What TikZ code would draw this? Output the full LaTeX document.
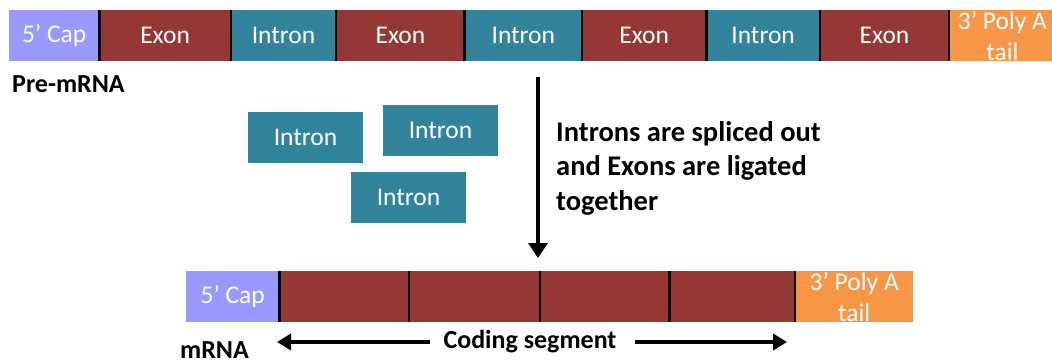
\documentclass[tikz,border=0pt]{standalone}
\usepackage{fontspec}
\setmainfont{Carlito}
\usetikzlibrary{positioning,arrows.meta}
\definecolor{capblue}{HTML}{9999FF}
\definecolor{exonred}{HTML}{953735}
\definecolor{introngreen}{HTML}{31849B}
\definecolor{tailorange}{HTML}{F79646}
\tikzset{
  seg/.style={inner sep=0pt,minimum height=51pt,text=white,align=center,font=\fontsize{25.5}{31}\selectfont},
  capseg/.style={seg,fill=capblue},
  exonseg/.style={seg,fill=exonred},
  intronseg/.style={seg,fill=introngreen},
  tailseg/.style={seg,fill=tailorange},
  divider/.style={line width=2.5pt,black},
  lbl/.style={inner sep=0pt,font=\bfseries\fontsize{26}{31}\selectfont},
  arr/.style={line width=3.5pt,-{Triangle[width=16pt,length=14pt]}}
}
\begin{document}
\begin{tikzpicture}[x=1pt,y=-1pt]
		\useasboundingbox (0,0) rectangle (1052,364);
		% pre-mRNA strand
		\node[capseg,minimum width=90pt,anchor=north west] (cap) at (9,10) {5’ Cap};
		\node[exonseg,minimum width=131pt,right=0pt of cap] (ex1) {Exon};
		\node[intronseg,minimum width=105pt,right=0pt of ex1] (in1) {Intron};
		\node[exonseg,minimum width=128pt,right=0pt of in1] (ex2) {Exon};
		\node[intronseg,minimum width=117pt,right=0pt of ex2] (in2) {Intron};
		\node[exonseg,minimum width=124pt,right=0pt of in2] (ex3) {Exon};
		\node[intronseg,minimum width=113pt,right=0pt of ex3] (in3) {Intron};
		\node[exonseg,minimum width=129pt,right=0pt of in3] (ex4) {Exon};
		\node[tailseg,minimum width=106pt,right=0pt of ex4] (tail) {3’ Poly A\\tail};
		\foreach \n in {cap,ex1,in1,ex2,in2,ex3,in3,ex4}
			\draw[divider] (\n.north east)--(\n.south east);
		\node[lbl,anchor=west] (pre) at (12,84) {Pre-mRNA};
		% removed introns
		\node[intronseg,minimum width=115pt] (cut1) at (305.5,137.5) {Intron};
		\node[intronseg,minimum width=115pt] (cut2) at (440.5,130.5) {Intron};
		\node[intronseg,minimum width=115pt] (cut3) at (408.5,197.5) {Intron};
		% splicing step
		\coordinate (stop) at (538,77);
		\coordinate (sbot) at (538,258);
		\draw[arr,-{Triangle[width=19pt,length=15pt]}] (stop)--(sbot);
		\node[lbl,font=\bfseries\fontsize{28.5}{34.5}\selectfont,align=left,anchor=west] (note) at (556,168) {Introns are spliced out\\and Exons are ligated\\together};
		% mature mRNA
		\node[capseg,minimum width=93pt,anchor=north west] (mcap) at (186,271) {5’ Cap};
		\node[exonseg,minimum width=129pt,right=0pt of mcap] (mex1) {};
		\node[exonseg,minimum width=131pt,right=0pt of mex1] (mex2) {};
		\node[exonseg,minimum width=129pt,right=0pt of mex2] (mex3) {};
		\node[exonseg,minimum width=125pt,right=0pt of mex3] (mex4) {};
		\node[tailseg,minimum width=118pt,right=0pt of mex4] (mtail) {3’ Poly A\\tail};
		\foreach \n in {mcap,mex1,mex2,mex3,mex4}
			\draw[divider] (\n.north east)--(\n.south east);
		\node[lbl,anchor=west] (mrna) at (180,350) {mRNA};
		\node[lbl] (coding) at (530,342) {Coding segment};
		\coordinate (cleft) at (277,342);
		\coordinate (cright) at (787,342);
		\draw[arr] ([xshift=-13pt]coding.west)--(cleft);
		\draw[arr] ([xshift=18pt]coding.east)--(cright);
	\end{tikzpicture}
\end{document}
